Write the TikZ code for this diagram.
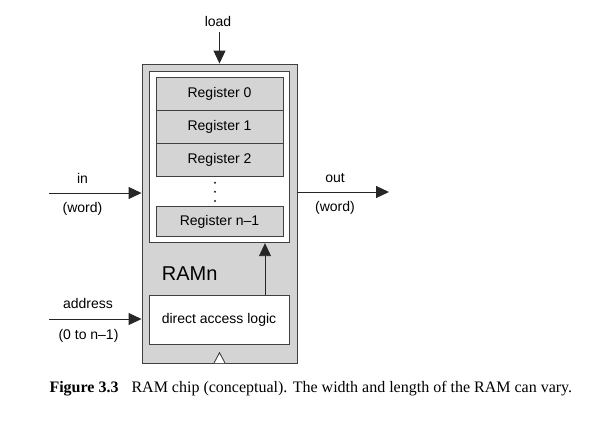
\documentclass[tikz,border=0pt]{standalone}
\usepackage{fontspec}
\setmainfont{Liberation Sans}
\newfontfamily\capfont{Liberation Serif}
\usetikzlibrary{arrows.meta}
\tikzset{
	chipline/.style={draw=black!75, line width=0.9pt},
	sig/.style={chipline, draw=black!85, -{Triangle[length=13pt,width=12pt]}},
	regbox/.style={chipline, fill=black!17, minimum width=127pt, minimum height=33pt, inner sep=0pt, font=\fontsize{14}{16}\selectfont},
	lbl/.style={font=\fontsize{14}{16}\selectfont, inner sep=0pt}
}

\begin{document}
\begin{tikzpicture}[x=1pt, y=-1pt]
		%%%%% START %%%%%
		\useasboundingbox (0,0) rectangle (607,432);
		
		\node[chipline, fill=black!17, minimum width=155pt, minimum height=299pt] (ram) at (219.5,213.5) {};
		\node[chipline, fill=white, minimum width=140pt, minimum height=171pt] (inner) at (219.3,157.2) {};
		
		\node[regbox] (reg0) at (219.5,94) {Register 0};
		\node[regbox] (reg1) at (219.5,126.7) {Register 1};
		\node[regbox] (reg2) at (219.5,159.5) {Register 2};
		\node[regbox, minimum height=30pt] (regn) at (219.5,221.7) {Register n–1};
		\foreach \y in {182.7,191.7,201} {
			\fill[black!85] (215,\y) circle (1.2);
		}
		
		\node[chipline, fill=white, minimum width=140pt, minimum height=49pt, font=\fontsize{14}{16}\selectfont] (dal) at (219,319.5) {direct access logic};
		\node[font=\fontsize{20}{24}\selectfont, anchor=base west, inner sep=0pt] (name) at (161.7,280) {RAMn};
		\draw[chipline, fill=white] (214,363) -- (219.5,352.7) -- (225,363);
		
		\coordinate (up) at (265,0);
		\draw[sig] (dal.north -| up) -- (inner.south -| up);
		
		\coordinate (loadA) at (219.5,32);
		\draw[sig] (loadA) -- (ram.north);
		\node[lbl] (load) at (218,21) {load};
		
		\coordinate (inA) at (49,193);
		\draw[sig] (inA) -- (inA -| ram.west);
		\node[lbl] (in) at (82.5,178) {in};
		\node[lbl] (inw) at (82.5,209) {(word)};
		
		\coordinate (outB) at (389,192);
		\draw[sig] (outB -| ram.east) -- (outB);
		\node[lbl] (out) at (335,178) {out};
		\node[lbl] (outw) at (335,208) {(word)};
		
		\coordinate (addrA) at (49,319);
		\draw[sig] (addrA) -- (addrA -| ram.west);
		\node[lbl] (addr) at (88,303) {address};
		\node[lbl] (addrr) at (88.5,336) {(0 to n–1)};
		
		\node[anchor=base west, inner sep=0pt, font=\capfont\fontsize{16}{19}\selectfont] (cap) at (49.3,392) {\textbf{Figure 3.3}\hspace{13pt}RAM chip (conceptual). The width and length of the RAM can vary.};
		%%%%% END %%%%%
\end{tikzpicture}
\end{document}
